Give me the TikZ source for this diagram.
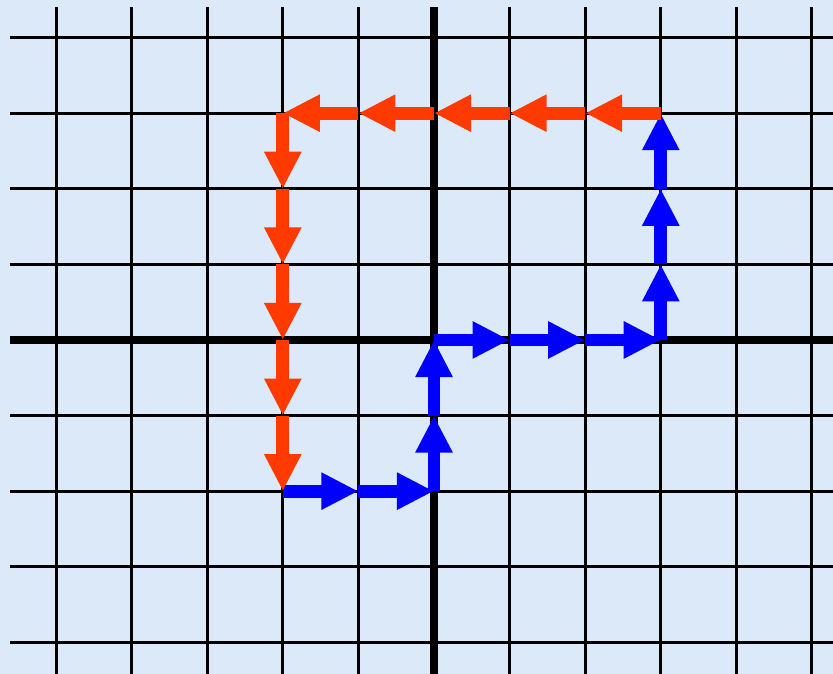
\documentclass[tikz,border=0pt]{standalone}
\usetikzlibrary{arrows.meta}
\definecolor{moveBlue}{HTML}{0000FF}
\definecolor{moveRed}{HTML}{FF3A00}
\definecolor{paperBlue}{HTML}{DCE9F8}
\tikzset{
  walk grid/.style={
    line cap=butt,
    >={Triangle[length=0.49cm,width=0.46cm]}
  },
  grid thin/.style={draw=black, line width=0.04cm},
  grid axis/.style={draw=black, line width=0.1cm},
  blue move/.style={->, draw=moveBlue, fill=moveBlue, line width=0.17cm},
  red move/.style={->, draw=moveRed, fill=moveRed, line width=0.17cm}
}

\begin{document}
\begin{tikzpicture}[walk grid,x=1cm,y=1cm]
    \useasboundingbox (-5.741,-4.418) rectangle (5.278,4.497);
    \fill[paperBlue] (-5.741,-4.418) rectangle (5.278,4.497);
    % grid
    \foreach \gx in {-5,...,5}
      \draw[grid thin] (\gx,-4.418) -- (\gx,4.40);
    \foreach \gy in {-4,...,4}
      \draw[grid thin] (-5.61,\gy) -- (5.278,\gy);
    \draw[grid axis] (0,-4.418) -- (0,4.40);
    \draw[grid axis] (-5.61,0) -- (5.278,0);
    % walk points
    \foreach \px/\py [count=\k from 0] in {-2/-2,-1/-2,0/-2,0/-1,0/0,
        1/0,2/0,3/0,3/1,3/2,3/3}
      \coordinate (b\k) at (\px,\py);
    \foreach \px/\py [count=\k from 0] in {3/3,2/3,1/3,0/3,-1/3,
        -2/3,-2/2,-2/1,-2/0,-2/-1,-2/-2}
      \coordinate (r\k) at (\px,\py);
    % steps
    \foreach \k [evaluate=\k as \n using int(\k+1)] in {0,...,9}
      \draw[blue move] (b\k) -- (b\n);
    \foreach \k [evaluate=\k as \n using int(\k+1)] in {0,...,9}
      \draw[red move] (r\k) -- (r\n);
\end{tikzpicture}
\end{document}
